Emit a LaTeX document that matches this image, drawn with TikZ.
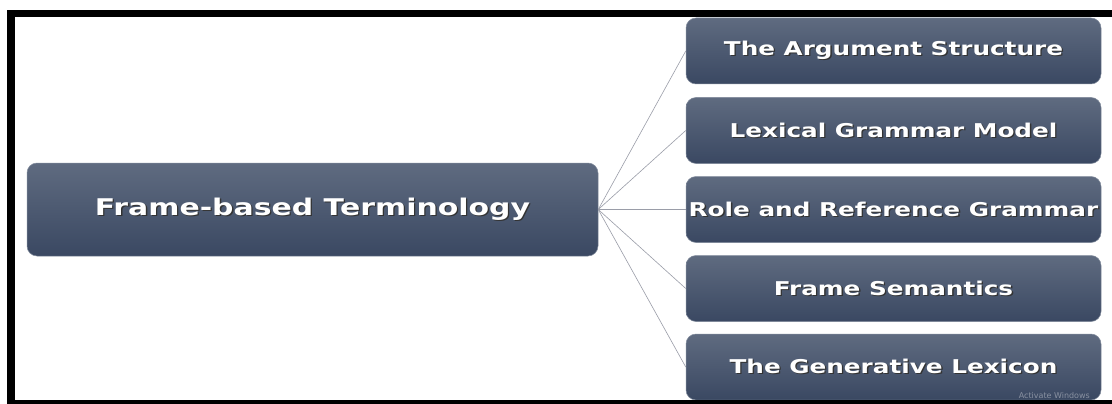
\documentclass[tikz,border=0pt]{standalone}
\usepackage{fontspec}
\setmainfont{DejaVu Sans}
\usepackage{graphicx}
\definecolor{boxtop}{HTML}{5F6B80}
\definecolor{boxbot}{HTML}{3A4862}
\definecolor{boxedge}{HTML}{7F899A}
\definecolor{conn}{HTML}{9A9DA8}
\newcommand{\shtxt}[1]{\scalebox{1.3}[1]{\rlap{\kern1pt\raisebox{-1pt}{\color{black!80}#1}}{\color{white}#1}}}
\tikzset{
  gbox/.style={rectangle, rounded corners=10pt, top color=boxtop, bottom color=boxbot,
    draw=boxedge, line width=0.5pt, inner sep=0pt, font=\bfseries},
  bigbox/.style={gbox, minimum width=571pt, minimum height=93pt, font=\bfseries\fontsize{23}{27}\selectfont},
  smallbox/.style={gbox, minimum width=415pt, minimum height=66pt, font=\bfseries\fontsize{19}{23}\selectfont},
  conline/.style={draw=conn, line width=0.6pt},
  frame/.style={fill=black, draw=none}
}
\begin{document}
\begin{tikzpicture}[x=1pt, y=-1pt]
\useasboundingbox (0,0) rectangle (1112,404);
\fill[white] (0,0) rectangle (1112,404);
\node[bigbox] (L) at (312.5,209.5) {\shtxt{Frame-based Terminology}};
\node[smallbox] (A) at (893.5,51) {\shtxt{The Argument Structure}};
\node[smallbox] (B) at (893.5,130.5) {\shtxt{Lexical Grammar Model}};
\node[smallbox] (C) at (893.5,209.5) {\shtxt{Role and Reference Grammar}};
\node[smallbox] (D) at (893.5,288.5) {\shtxt{Frame Semantics}};
\node[smallbox] (E) at (893.5,367) {\shtxt{The Generative Lexicon}};
\node[text=white!40!boxbot, font=\fontsize{8}{9}\selectfont, anchor=base east, inner sep=0pt] (W) at (1090,398.5) {Activate Windows};
\foreach \t in {A,B,C,D,E} \draw[conline] (L.east) -- (\t.west);
\fill[frame] (7,10) rectangle (1112,17);
\fill[frame] (7,10) rectangle (15,404);
\fill[frame] (7,400) rectangle (1112,404);
\end{tikzpicture}
\end{document}
